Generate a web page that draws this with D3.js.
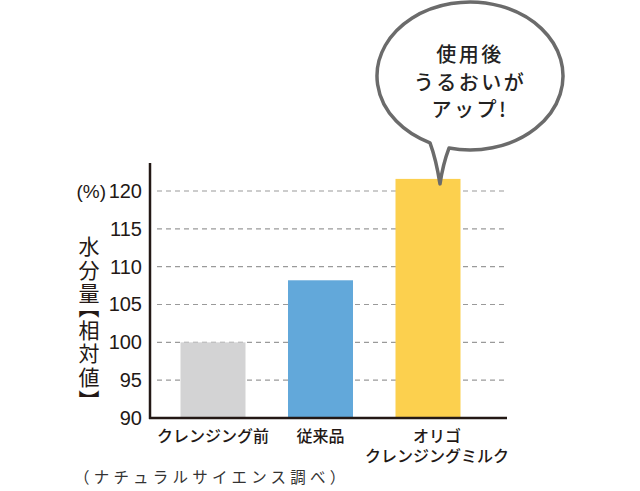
<!DOCTYPE html>
<html>
<head>
<meta charset="utf-8">
<script src="https://cdn.jsdelivr.net/npm/d3@7"></script>
<style>
  body { margin: 0; background: #fff; }
  svg { display: block; }
  .vertical { writing-mode: vertical-rl; font-feature-settings: "vpal"; }
</style>
</head>
<body>
<div id="chart"></div>
<script>
var categorias = ["クレンジング前", "従来品", "オリゴクレンジングミルク"];
var etiquetas = [["クレンジング前"], ["従来品"], ["オリゴ", "クレンジングミルク"]];
var valores = [100, 108.2, 121.6];
var colores = ["#d3d3d4", "#62a8da", "#fcd04e"];
var tickValores = [90, 95, 100, 105, 110, 115, 120];
var yLabel = "水分量【相対値】";
var burbuja = ["使用後", "うるおいが", "アップ!"];
var nota = "（ナチュラルサイエンス調べ）";

var jp = "'Noto Sans CJK JP', 'Noto Sans', sans-serif";
var num = "'Liberation Sans', Arial, sans-serif";

var svg = d3.select("#chart")
    .append("svg")
    .attr("width", 640)
    .attr("height", 491);

var y = d3.scaleLinear().domain([90, 120]).range([418, 191]);
var x = d3.scalePoint().domain(categorias).range([213, 428]);
var barW = 65;
var x0 = 150, x1 = 507;

// lineas de guia
svg.append("g")
    .selectAll("line")
    .data(tickValores.slice(1))
    .enter()
    .append("line")
    .attr("x1", x0 + 7)
    .attr("x2", x1)
    .attr("y1", d => y(d))
    .attr("y2", d => y(d))
    .attr("stroke", "#9a9a9a")
    .attr("stroke-width", 1.2)
    .attr("stroke-dasharray", "5,4");

// barras
svg.append("g")
    .selectAll("rect")
    .data(valores)
    .enter()
    .append("rect")
    .attr("x", (d, i) => x(categorias[i]) - barW / 2)
    .attr("width", barW)
    .attr("y", d => y(d))
    .attr("height", d => y(90) - y(d))
    .attr("fill", (d, i) => colores[i]);

// eje y
var ejeY = svg.append("g")
    .attr("transform", "translate(" + (x0 - 8) + ",0)")
    .call(d3.axisLeft(y).tickValues(tickValores).tickSize(0).tickPadding(0));
ejeY.select(".domain").remove();
ejeY.selectAll("text")
    .attr("font-family", num)
    .attr("font-size", 20)
    .attr("fill", "#231815");

svg.append("text")
    .attr("x", 106)
    .attr("y", y(120))
    .attr("dy", "0.35em")
    .attr("text-anchor", "end")
    .attr("font-family", num)
    .attr("font-size", 19)
    .attr("fill", "#231815")
    .text("(%)");

// lineas del eje
svg.append("line")
    .attr("x1", x0).attr("x2", x0)
    .attr("y1", 163).attr("y2", y(90) + 1)
    .attr("stroke", "#231815").attr("stroke-width", 2.5);
svg.append("line")
    .attr("x1", x0 - 1).attr("x2", x1)
    .attr("y1", y(90)).attr("y2", y(90))
    .attr("stroke", "#231815").attr("stroke-width", 2.5);

// titulo vertical
svg.append("text")
    .attr("class", "vertical")
    .attr("x", 89)
    .attr("y", 236)
    .attr("font-family", jp)
    .attr("font-size", 21)
    .attr("letter-spacing", 2.5)
    .attr("fill", "#231815")
    .text(yLabel);

// etiquetas de categorias (una linea = un texto)
etiquetas.forEach(function (lineas, i) {
    svg.append("g")
        .selectAll("text")
        .data(lineas)
        .enter()
        .append("text")
        .attr("x", x(categorias[i]) + (i == 2 ? 9 : 0))
        .attr("y", (d, j) => 442 + j * 20)
        .attr("text-anchor", "middle")
        .attr("font-family", jp)
        .attr("font-size", 16)
        .attr("font-weight", 500)
        .attr("fill", "#231815")
        .text(d => d);
});

// nota
svg.append("text")
    .attr("x", 74)
    .attr("y", 483)
    .attr("font-family", jp)
    .attr("font-size", 15.5)
    .attr("letter-spacing", 4.2)
    .attr("fill", "#333")
    .text(nota);

// burbuja
var tipX = 440, tipY = y(valores[2]) + 5;
var cx = 470, cy = 76, rx = 93, ry = 74;
function enElipse(px) {
    var t = (px - cx) / rx;
    return cy + ry * Math.sqrt(1 - t * t);
}
var ax = 430, bx = 449;
var p = "M" + bx + "," + enElipse(bx) +
    " A" + rx + " " + ry + " 0 1 0 " + ax + "," + enElipse(ax) +
    " Q" + (ax + 6) + " " + (tipY - 25) + " " + tipX + " " + tipY +
    " Q" + (tipX + 3) + " " + (tipY - 20) + " " + bx + " " + enElipse(bx) + " Z";
svg.append("path")
    .attr("d", p)
    .attr("fill", "#fff")
    .attr("stroke", "#6b6b6b")
    .attr("stroke-width", 3.5)
    .attr("stroke-linejoin", "round");

svg.append("g")
    .selectAll("text")
    .data(burbuja)
    .enter()
    .append("text")
    .attr("x", 470)
    .attr("y", (d, i) => 62 + i * 27.5)
    .attr("text-anchor", "middle")
    .attr("font-family", jp)
    .attr("font-size", 20)
    .attr("font-weight", 500)
    .attr("letter-spacing", 2.5)
    .attr("fill", "#222")
    .text(d => d);
</script>
</body>
</html>
